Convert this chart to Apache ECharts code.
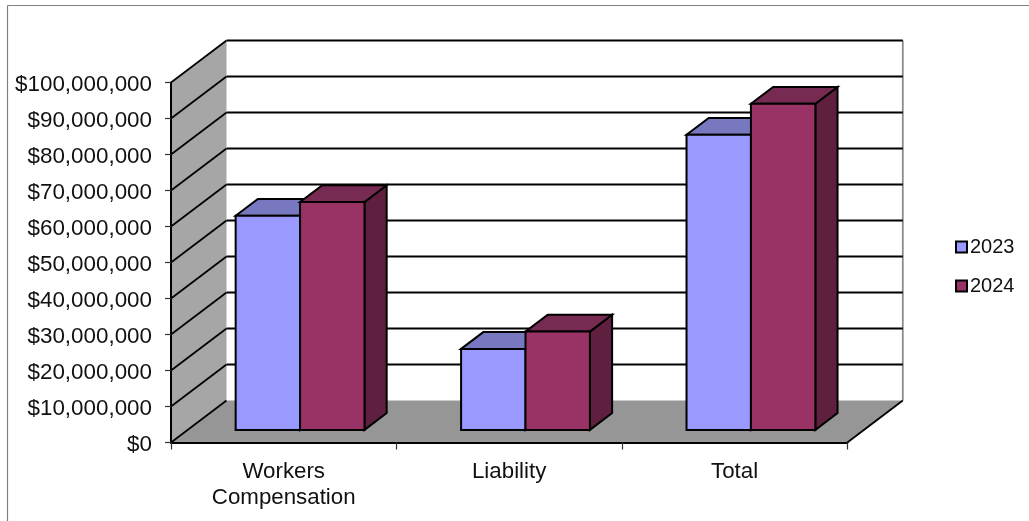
<!DOCTYPE html>
<html><head><meta charset="utf-8">
<style>html,body{margin:0;padding:0;background:#fff}#c{width:1029px;height:521px;filter:blur(0.6px)}</style>
<script src="https://cdn.jsdelivr.net/npm/echarts@6/dist/echarts.min.js"></script></head>
<body><div id="c"></div>
<script>
const categories = ['Workers\nCompensation', 'Liability', 'Total'];
const seriesNames = ['2023', '2024'];
const values2023 = [59500000, 22500000, 82000000];
const values2024 = [63300000, 27300000, 90600000];
const yTicks = [0,10000000,20000000,30000000,40000000,50000000,60000000,70000000,80000000,90000000,100000000];

const WALL_DX = 55.5, WALL_DY = 42;
const BAR_FRONT = 0.30, BAR_BACK = 0.70;
const GAP = 1.5;

const chart = echarts.init(document.getElementById('c'));

function poly(points, fill, stroke, lw) {
  return {type:'polygon', shape:{points}, style:{fill, stroke: stroke||'none', lineWidth: lw===undefined?2:lw}};
}
function line(a, b, stroke, lw) {
  return {type:'line', shape:{x1:a[0],y1:a[1],x2:b[0],y2:b[1]}, style:{stroke, lineWidth:lw||2}};
}

function renderWalls(params, api) {
  if (params.dataIndex !== 0) return {type:'group', children:[]};
  const band = api.size([1,0])[0];
  const x0 = api.coord([0,0])[0] - band/2;
  const x1 = x0 + band*categories.length;
  const y0 = api.coord([0,0])[1];
  const yMax = api.coord([0,yTicks[yTicks.length-1]])[1];
  const ch = [];
  ch.push(poly([[x0+WALL_DX,yMax-WALL_DY],[x1+WALL_DX,yMax-WALL_DY],[x1+WALL_DX,y0-WALL_DY],[x0+WALL_DX,y0-WALL_DY]],'#ffffff'));
  ch.push(poly([[x0,yMax],[x0+WALL_DX,yMax-WALL_DY],[x0+WALL_DX,y0-WALL_DY],[x0,y0]],'#a6a6a6'));
  ch.push(poly([[x0,y0],[x0+WALL_DX,y0-WALL_DY],[x1+WALL_DX,y0-WALL_DY],[x1,y0]],'#969696'));
  ch.push(line([x1+WALL_DX,yMax-WALL_DY],[x1+WALL_DX,y0-WALL_DY],'#8c8c8c',1.8));
  yTicks.forEach(function(t){
    const y = api.coord([0,t])[1];
    ch.push(line([x0,y],[x0+WALL_DX,y-WALL_DY],'#000',1.7));
    if (t>0) ch.push(line([x0+WALL_DX,y-WALL_DY],[x1+WALL_DX,y-WALL_DY],'#000',2));
  });
  ch.push(line([x1,y0],[x1+WALL_DX,y0-WALL_DY],'#000',1.8));
  return {type:'group', children:ch};
}

function barRenderer(seriesIndex, face, top, side) {
  return function(params, api) {
    const p = api.coord([api.value(0), api.value(1)]);
    const base = api.coord([api.value(0), 0]);
    const band = api.size([1,0])[0];
    const w = band/(2+GAP);
    const left = p[0] - w + seriesIndex*w;
    const fx = left + BAR_FRONT*WALL_DX - 0.3, fy = BAR_FRONT*WALL_DY;
    const d = (BAR_BACK-BAR_FRONT);
    const ox = d*WALL_DX, oy = d*WALL_DY;
    const xa = fx, xb = fx+w, yt = p[1]-fy, yb = base[1]-fy;
    return {type:'group', children:[
      poly([[xb,yt],[xb+ox,yt-oy],[xb+ox,yb-oy],[xb,yb]], side, '#000', 2),
      poly([[xa,yt],[xa+ox,yt-oy],[xb+ox,yt-oy],[xb,yt]], top, '#000', 2),
      poly([[xa,yt],[xb,yt],[xb,yb],[xa,yb]], face, '#000', 2)
    ]};
  };
}

function pairs(arr){ return arr.map(function(v,i){ return [i,v]; }); }

chart.setOption({
  animation:false,
  backgroundColor:'#ffffff',
  textStyle:{fontFamily:'"Liberation Sans",Arial,sans-serif'},
  grid:{left:171, right:181.7, top:82.5, bottom:78.5, containLabel:false},
  xAxis:{type:'category', data:categories, z:5,
    axisLine:{lineStyle:{color:'#000',width:2}},
    axisTick:{show:true, length:7, lineStyle:{color:'#333',width:1.2}},
    axisLabel:{margin:16, fontSize:22.3, lineHeight:26, color:'#111', interval:0, fontFamily:'"Liberation Sans",Arial,sans-serif'},
    splitLine:{show:false}
  },
  yAxis:{type:'value', min:0, max:100000000, interval:10000000, z:5,
    axisLine:{show:true, lineStyle:{color:'#000',width:2}},
    axisTick:{show:true, length:6, lineStyle:{color:'#333',width:1.2}},
    axisLabel:{margin:19, fontSize:22.4, color:'#111', verticalAlign:'top', lineHeight:5, fontFamily:'"Liberation Sans",Arial,sans-serif',
      formatter:function(v){ return '$'+v.toLocaleString('en-US'); }},
    splitLine:{show:false}
  },
  legend:{orient:'vertical', left:950, top:232, itemWidth:11, itemHeight:11, itemGap:19, icon:'rect',
    data:seriesNames,
    textStyle:{fontSize:20, color:'#111', padding:[0,0,0,-2], fontFamily:'"Liberation Sans",Arial,sans-serif'}},
  graphic:[
    {type:'line', shape:{x1:7.5,y1:5.5,x2:1029,y2:5.5}, style:{stroke:'#808080',lineWidth:1.2}, silent:true},
    {type:'line', shape:{x1:7.5,y1:5.5,x2:7.5,y2:521}, style:{stroke:'#808080',lineWidth:1.2}, silent:true}
  ],
  series:[
    {type:'custom', name:'walls', z:1, silent:true, data:pairs([0]), renderItem:renderWalls, encode:{x:0,y:1}},
    {type:'custom', name:seriesNames[0], z:2, data:pairs(values2023), renderItem:barRenderer(0,'#9999ff','#7878c0','#60608f'), encode:{x:0,y:1},
      itemStyle:{color:'#9999ff',borderColor:'#000',borderWidth:2}},
    {type:'custom', name:seriesNames[1], z:3, data:pairs(values2024), renderItem:barRenderer(1,'#993366','#772a52','#5f2040'), encode:{x:0,y:1},
      itemStyle:{color:'#993366',borderColor:'#000',borderWidth:2}}
  ]
});
</script></body></html>
